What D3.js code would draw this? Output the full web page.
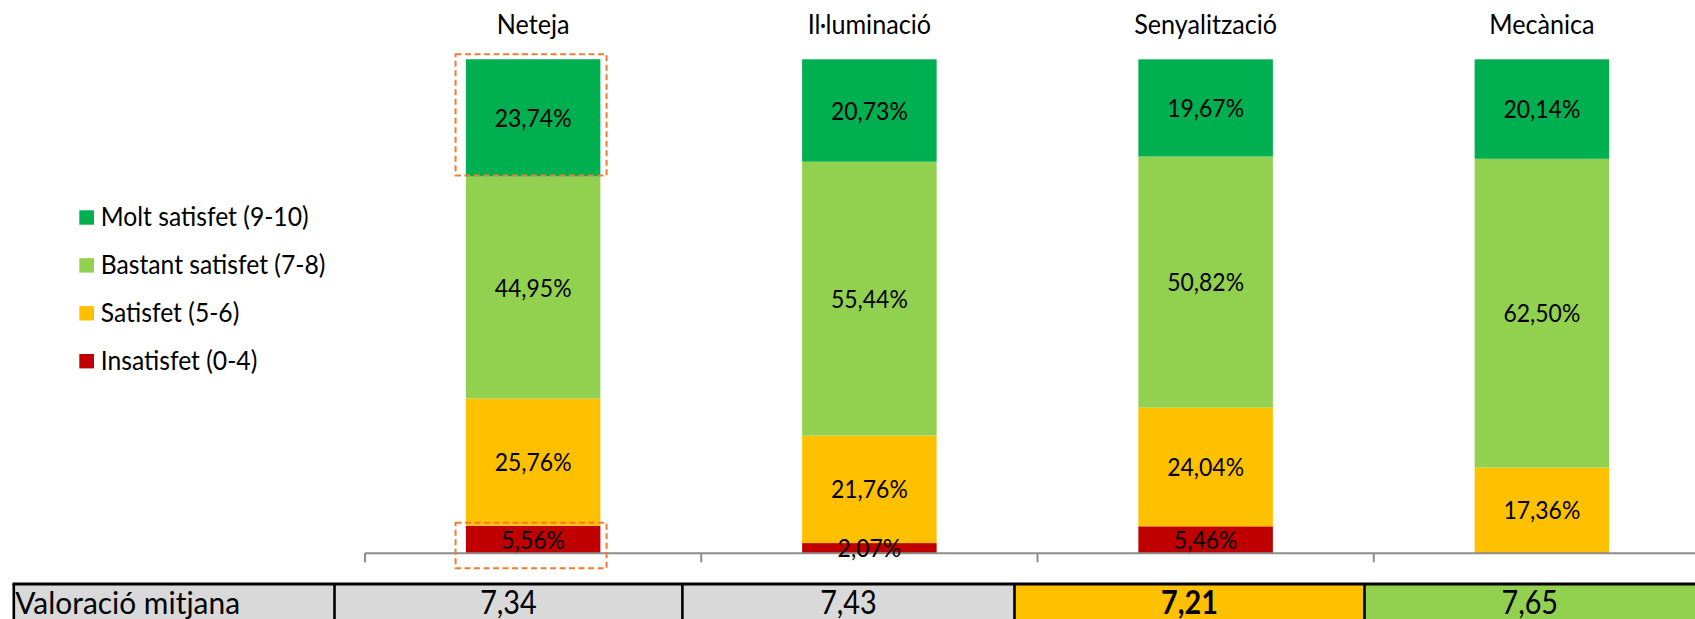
<!DOCTYPE html>
<html>
<head>
<meta charset="utf-8">
<script src="https://cdn.jsdelivr.net/npm/d3@7/dist/d3.min.js"></script>
<style>
  html, body { margin: 0; padding: 0; background: #fff; }
  svg { display: block; font-family: Lato, "Open Sans", sans-serif; }
</style>
</head>
<body>
<div id="chart"></div>
<script>
// data
var categories = ["Neteja", "Il·luminació", "Senyalització", "Mecànica"];
var seriesNames = ["Molt satisfet (9-10)", "Bastant satisfet (7-8)", "Satisfet (5-6)", "Insatisfet (0-4)"];
var moltSatisfet = [23.74, 20.73, 19.67, 20.14];
var bastantSatisfet = [44.95, 55.44, 50.82, 62.50];
var satisfet = [25.76, 21.76, 24.04, 17.36];
var insatisfet = [5.56, 2.07, 5.46, 0];
var rowLabel = "Valoració mitjana";
var mitjana = [7.34, 7.43, 7.21, 7.65];
var colors = ["#00B050", "#92D050", "#FFC000", "#C00000"];
// cells marked with the dashed orange box
var highlights = [
  {cat: "Neteja", serie: "Molt satisfet (9-10)"},
  {cat: "Neteja", serie: "Insatisfet (0-4)"}
];

var width = 1695, height = 619,
    SX = 0.9,                // narrow the glyphs a bit, Calibri-like
    axisY = 553.3, topY = 59.3,
    axisLeft = 365, step = 336.25, barW = 134.5,
    tableTop = 584,
    tableEdges = [13.8, 334.5, 682.4, 1014.5, 1364.5, 1700],
    cellFill = ["#D9D9D9", "#D9D9D9", "#D9D9D9", "#FFC000", "#92D050"];

var loc = d3.formatLocale({decimal: ",", thousands: ".", grouping: [3], currency: ["", "€"]});
var fmtPct = function (v) { return loc.format(".2f")(v) + "%"; },
    fmtMean = loc.format(".2f");

var rows = categories.map(function (c, i) {
  var r = {cat: c};
  r[seriesNames[0]] = moltSatisfet[i];
  r[seriesNames[1]] = bastantSatisfet[i];
  r[seriesNames[2]] = satisfet[i];
  r[seriesNames[3]] = insatisfet[i];
  return r;
});

// bottom to top
var stackKeys = seriesNames.slice().reverse();
var stacked = d3.stack().keys(stackKeys)(rows);

var color = d3.scaleOrdinal().domain(seriesNames).range(colors);
var x = d3.scaleBand().domain(categories).range([axisLeft, axisLeft + step * categories.length]);
var y = d3.scaleLinear().domain([0, 100]).range([axisY, topY]);

var svg = d3.select("#chart").append("svg")
    .attr("width", width)
    .attr("height", height);

function txt(sel, str, tx, ty, size, anchor, weight, sx) {
  return sel.append("text")
    .attr("transform", "translate(" + tx + "," + ty + ") scale(" + (sx || SX) + ",1)")
    .attr("text-anchor", anchor)
    .style("font-size", size + "px")
    .style("font-weight", weight || 400)
    .attr("fill", "#000")
    .text(str);
}

function barX(c) { return x(c) + (x.bandwidth() - barW) / 2; }

// bars
var layers = svg.append("g").attr("class", "bars")
  .selectAll("g").data(stacked).enter().append("g")
    .attr("fill", function (d) { return color(d.key); });

layers.selectAll("rect")
  .data(function (d) { return d; })
  .enter().append("rect")
    .attr("x", function (d) { return barX(d.data.cat); })
    .attr("width", barW)
    .attr("y", function (d) { return y(d[1]); })
    .attr("height", function (d) { return y(d[0]) - y(d[1]); });

// axis line with ticks on the category boundaries
var axis = svg.append("g").attr("class", "x axis");
axis.append("line")
  .attr("x1", axisLeft).attr("x2", width)
  .attr("y1", axisY).attr("y2", axisY)
  .attr("stroke", "#8c8c8c").attr("stroke-width", 2);
axis.selectAll(".tick")
  .data(categories.concat(["end"]))
  .enter().append("line")
    .attr("class", "tick")
    .attr("x1", function (c, i) { return axisLeft + step * i; })
    .attr("x2", function (c, i) { return axisLeft + step * i; })
    .attr("y1", axisY).attr("y2", axisY + 9)
    .attr("stroke", "#8c8c8c").attr("stroke-width", 2);

// data labels
var labels = svg.append("g").attr("class", "labels");
stacked.forEach(function (layer) {
  layer.forEach(function (d) {
    var v = d.data[layer.key];
    if (!v) return;
    var mid = (y(d[0]) + y(d[1])) / 2;
    txt(labels, fmtPct(v), x(d.data.cat) + x.bandwidth() / 2, mid + 9, 25.5, "middle");
  });
});

// category titles on top
var titles = svg.append("g").attr("class", "titles");
categories.forEach(function (c) {
  txt(titles, c, x(c) + x.bandwidth() / 2, 33.5, 26.5, "middle", 400, 0.95);
});

// dashed highlight boxes
var pads = [{t: 5, b: -1}, {t: 3, b: 15}];
highlights.forEach(function (h, i) {
  var layer = stacked.filter(function (s) { return s.key === h.serie; })[0];
  var d = layer[categories.indexOf(h.cat)];
  var x0 = barX(h.cat) - 10.3, x1 = barX(h.cat) + barW + 6.2;
  var y0 = y(d[1]) - pads[i].t, y1 = y(d[0]) + pads[i].b;
  svg.append("rect")
    .attr("x", x0).attr("y", y0)
    .attr("width", x1 - x0).attr("height", y1 - y0)
    .attr("fill", "none")
    .attr("stroke", "#ED7D31")
    .attr("stroke-width", 2)
    .attr("stroke-dasharray", "6,3.5");
});

// legend
var legend = svg.append("g").attr("class", "legend");
seriesNames.forEach(function (s, i) {
  var cy = 217.5 + i * 47.9;
  legend.append("rect")
    .attr("x", 79.3).attr("y", cy - 7.2)
    .attr("width", 14.7).attr("height", 14.4)
    .attr("fill", color(s));
  txt(legend, s, 100.7, cy + 8.8, 26, "start", 400, 0.95);
});

// table row below the chart
var table = svg.append("g").attr("class", "table");
var cells = [rowLabel].concat(mitjana);
cells.forEach(function (v, i) {
  table.append("rect")
    .attr("x", tableEdges[i]).attr("y", tableTop)
    .attr("width", tableEdges[i + 1] - tableEdges[i])
    .attr("height", height - tableTop)
    .attr("fill", cellFill[i]);
});
table.append("line")
  .attr("x1", tableEdges[0] - 1.3).attr("x2", width)
  .attr("y1", tableTop).attr("y2", tableTop)
  .attr("stroke", "#000").attr("stroke-width", 3);
tableEdges.slice(0, -1).forEach(function (ex) {
  table.append("line")
    .attr("x1", ex).attr("x2", ex)
    .attr("y1", tableTop).attr("y2", height)
    .attr("stroke", "#000").attr("stroke-width", 2.6);
});
txt(table, rowLabel, tableEdges[0] + 1.5, 614, 31.5, "start", 400, 0.95);
mitjana.forEach(function (v, i) {
  var cx = (tableEdges[i + 1] + tableEdges[i + 2]) / 2;
  if (i === 3) cx = (tableEdges[4] + width) / 2; // last cell runs off the page
  txt(table, fmtMean(v), cx, 614, 32, "middle", categories[i] === "Senyalització" ? 700 : 400);
});
</script>
</body>
</html>
